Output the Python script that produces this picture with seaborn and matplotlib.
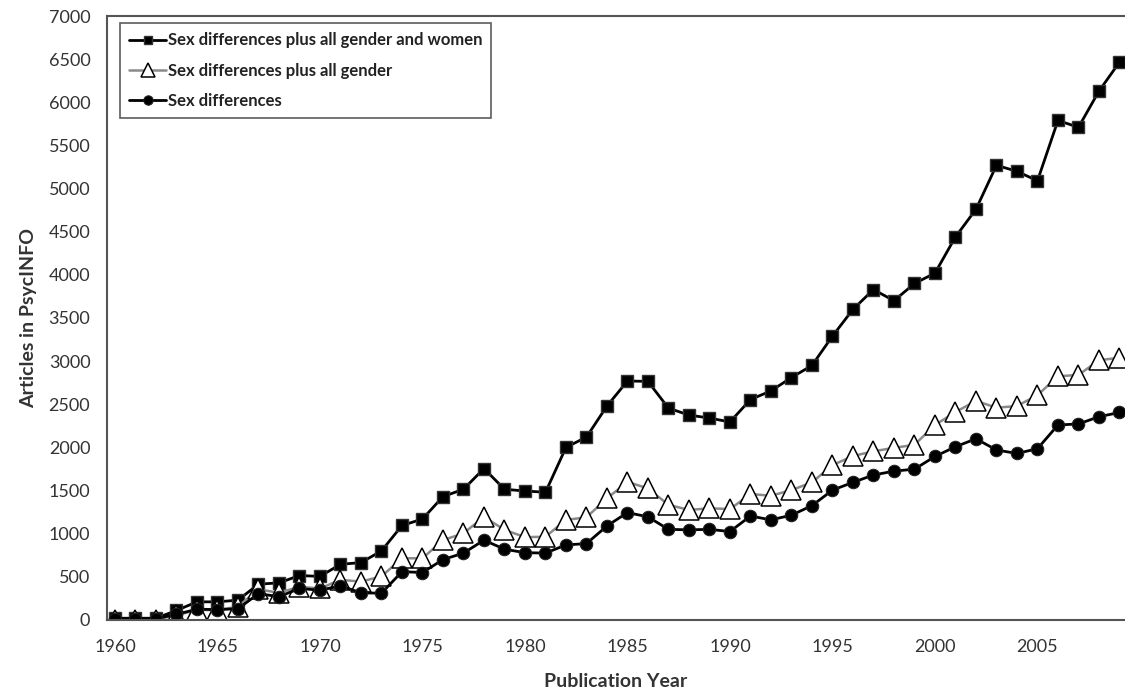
import numpy as np
import pandas as pd
import matplotlib
matplotlib.use("Agg")
import matplotlib.pyplot as plt
import seaborn as sns

# anos de publicacao
anos = list(range(1960, 2010))

# Sex differences plus all gender and women (quadrados)
genero_mulheres = [20, 20, 20, 110, 210, 210, 230, 415, 430, 515,
                   505, 645, 665, 800, 1095, 1170, 1430, 1515, 1755, 1515,
                   1495, 1480, 2000, 2120, 2480, 2770, 2765, 2455, 2375, 2340,
                   2295, 2555, 2655, 2810, 2950, 3290, 3600, 3830, 3700, 3900,
                   4020, 4440, 4760, 5270, 5200, 5090, 5790, 5710, 6130, 6465]

# Sex differences plus all gender (triangulos)
genero = [5, 5, 5, 55, 115, 115, 155, 355, 315, 385,
          365, 465, 445, 505, 715, 715, 925, 1005, 1195, 1045,
          960, 965, 1160, 1190, 1410, 1600, 1525, 1335, 1275, 1295,
          1285, 1460, 1440, 1505, 1595, 1795, 1900, 1955, 1995, 2030,
          2260, 2410, 2540, 2460, 2480, 2605, 2825, 2840, 3010, 3040]

# Sex differences (circulos)
sexo = [15, 15, 15, 65, 125, 120, 130, 305, 270, 365,
        345, 395, 315, 310, 560, 550, 700, 775, 925, 820,
        780, 775, 870, 885, 1090, 1245, 1195, 1050, 1045, 1050,
        1025, 1205, 1160, 1215, 1325, 1505, 1595, 1680, 1725, 1748,
        1895, 2008, 2100, 1970, 1930, 1985, 2260, 2272, 2356, 2405]

df = pd.DataFrame({"ano": anos, "mulheres": genero_mulheres,
                   "genero": genero, "sexo": sexo})

sns.set_style("white")
plt.rcParams['font.family'] = ['Lato', 'DejaVu Sans']

fig = plt.figure(figsize=(11.25, 6.91), dpi=100)
ax = fig.add_axes([0.0951, 0.1028, 0.9049, 0.874])

sns.lineplot(data=df, x="ano", y="mulheres", ax=ax, color="black",
             linewidth=2.0, marker="s", markersize=8, markerfacecolor="black",
             markeredgecolor="#333333", markeredgewidth=1,
             label="Sex differences plus all gender and women")
sns.lineplot(data=df, x="ano", y="genero", ax=ax, color="#8a8a8a",
             linewidth=1.8, marker="^", markersize=14, markerfacecolor="white",
             markeredgecolor="black", markeredgewidth=1.1,
             label="Sex differences plus all gender")
sns.lineplot(data=df, x="ano", y="sexo", ax=ax, color="black",
             linewidth=2.0, marker="o", markersize=9, markerfacecolor="black",
             markeredgecolor="#222222",
             label="Sex differences")

ax.set_xlim(1959.61, 2009.27)
ax.set_ylim(0, 7000)
ax.set_xticks(range(1960, 2010, 5))
ax.set_yticks(range(0, 7001, 500))

for lado in ["left", "bottom", "top"]:
    ax.spines[lado].set_color("#555555")
    ax.spines[lado].set_linewidth(1.5)
ax.spines["right"].set_visible(False)

ax.tick_params(axis="both", direction="out", length=6, width=1, color="#555555",
               labelsize=13, labelcolor="#333333")
ax.tick_params(axis="y", pad=6)
ax.tick_params(axis="x", pad=8)

ax.set_xlabel("Publication Year", fontsize=14, fontweight="bold", color="#333333", labelpad=13)
ax.set_ylabel("Articles in PsycINFO", fontsize=14, fontweight="bold", color="#333333", labelpad=8)

leg = ax.legend(loc="upper left", bbox_to_anchor=(0.0128, 0.988), frameon=True,
                fancybox=False, edgecolor="#333333", fontsize=12,
                handlelength=2.2, handletextpad=0.1, borderpad=0.55,
                borderaxespad=0, labelspacing=0.85, markerscale=0.75)
leg.get_frame().set_linewidth(1.2)
for t in leg.get_texts():
    t.set_fontweight("bold")
    t.set_color("#222222")

plt.savefig("out.png", dpi=100)
